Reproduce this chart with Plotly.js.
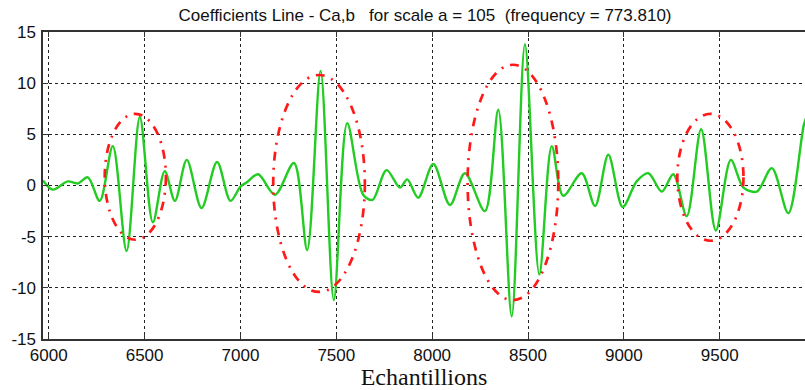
<!DOCTYPE html>
<html>
<head>
<meta charset="utf-8">
<script src="https://cdn.plot.ly/plotly-3.0.1.min.js"></script>
<style>html,body{margin:0;padding:0;background:#fff;}#chart{width:805px;height:390px;}</style>
</head>
<body>
<div id="chart"></div>
<script>
// Samples (Echantillions) and coefficient values
var samples = [5970, 6021, 6099, 6151, 6204, 6266, 6334, 6406, 6475, 6543, 6605, 6658, 6720,
  6797, 6878, 6948, 7000, 7032, 7092, 7180, 7279, 7348, 7418, 7487, 7557, 7640, 7689,
  7762, 7832, 7870, 7927, 8006, 8093, 8171, 8275, 8345, 8415, 8484, 8559, 8624, 8684,
  8780, 8850, 8919, 8994, 9067, 9128, 9198, 9258, 9328, 9403, 9480, 9558, 9624, 9694,
  9772, 9858, 9940, 9960];
var coeffs = [0.5, -0.4, 0.4, 0.2, 0.8, -1.5, 3.85, -6.4, 6.7, -3.6, 1.4, -1.5, 2.5,
  -2.2, 2.3, -1.5, -0.1, 0.3, 1.1, -0.9, 2.2, -6.3, 11.2, -11.2, 6.1, -0.9, -1.4,
  1.5, -0.2, 0.6, -1.2, 2.1, -1.9, 1.2, -2.5, 7.4, -12.8, 13.8, -8.7, 3.85, -1.0,
  1.2, -2.0, 3.0, -2.1, 0.4, 1.2, -0.6, 1.1, -3.0, 5.5, -4.4, 2.5, -0.2, -0.6,
  1.7, -2.7, 6.0, 7.0];
// Highlight ellipses (data bounds)
var ellipseX0 = [6292, 7171, 8185, 9279];
var ellipseX1 = [6611, 7649, 8658, 9624];
var ellipseY0 = [-5.3, -10.4, -11.2, -5.4];
var ellipseY1 = [7.0, 10.8, 11.8, 7.0];
var xTicks = [6000, 6500, 7000, 7500, 8000, 8500, 9000, 9500];
var yTicks = [-15, -10, -5, 0, 5, 10, 15];

var shapes = ellipseX0.map(function (x0, i) {
  return {type: 'circle', xref: 'x', yref: 'y', x0: x0, x1: ellipseX1[i],
    y0: ellipseY0[i], y1: ellipseY1[i], layer: 'above',
    line: {color: '#ff1a1a', width: 2.7, dash: '9px,7px,2px,7px'}};
});

var trace = {
  x: samples, y: coeffs, type: 'scatter', mode: 'lines',
  line: {color: '#22cc22', width: 2.4, shape: 'spline', smoothing: 0.9},
  hoverinfo: 'skip'
};

var tickFont = {family: 'Liberation Sans, Arial, sans-serif', size: 17, color: '#111'};
var layout = {
  width: 805, height: 390,
  margin: {l: 43, r: 0, t: 32, b: 51, pad: 0},
  paper_bgcolor: '#fff', plot_bgcolor: '#fff',
  showlegend: false,
  title: {text: 'Coefficients Line - Ca,b   for scale a = 105  (frequency = 773.810)',
    font: {family: 'Liberation Sans, Arial, sans-serif', size: 17, color: '#111'},
    x: 0.528, xanchor: 'center', y: 0.962, yanchor: 'middle'},
  xaxis: {
    range: [5970, 9945], tickvals: xTicks, ticktext: xTicks.map(String),
    showgrid: true, gridcolor: '#222', gridwidth: 1, griddash: '3px,3px',
    zeroline: false, showline: true, linecolor: '#333', linewidth: 1.6,
    mirror: 'ticks', ticks: 'inside', ticklen: 5, tickcolor: '#333',
    tickfont: tickFont, ticklabelstandoff: 0,
    title: {text: 'Echantillions', font: {family: 'Liberation Serif, Times New Roman, serif', size: 24, color: '#111'}, standoff: 0}
  },
  yaxis: {
    range: [-15, 15], tickvals: yTicks, ticktext: yTicks.map(String),
    showgrid: true, gridcolor: '#222', gridwidth: 1, griddash: '3px,3px',
    zeroline: false, showline: true, linecolor: '#333', linewidth: 1.6,
    mirror: false, ticks: 'inside', ticklen: 5, tickcolor: '#333',
    tickfont: tickFont, ticklabelstandoff: 2
  },
  shapes: shapes
};
Plotly.newPlot('chart', [trace], layout, {staticPlot: true, displayModeBar: false});
</script>
</body>
</html>
